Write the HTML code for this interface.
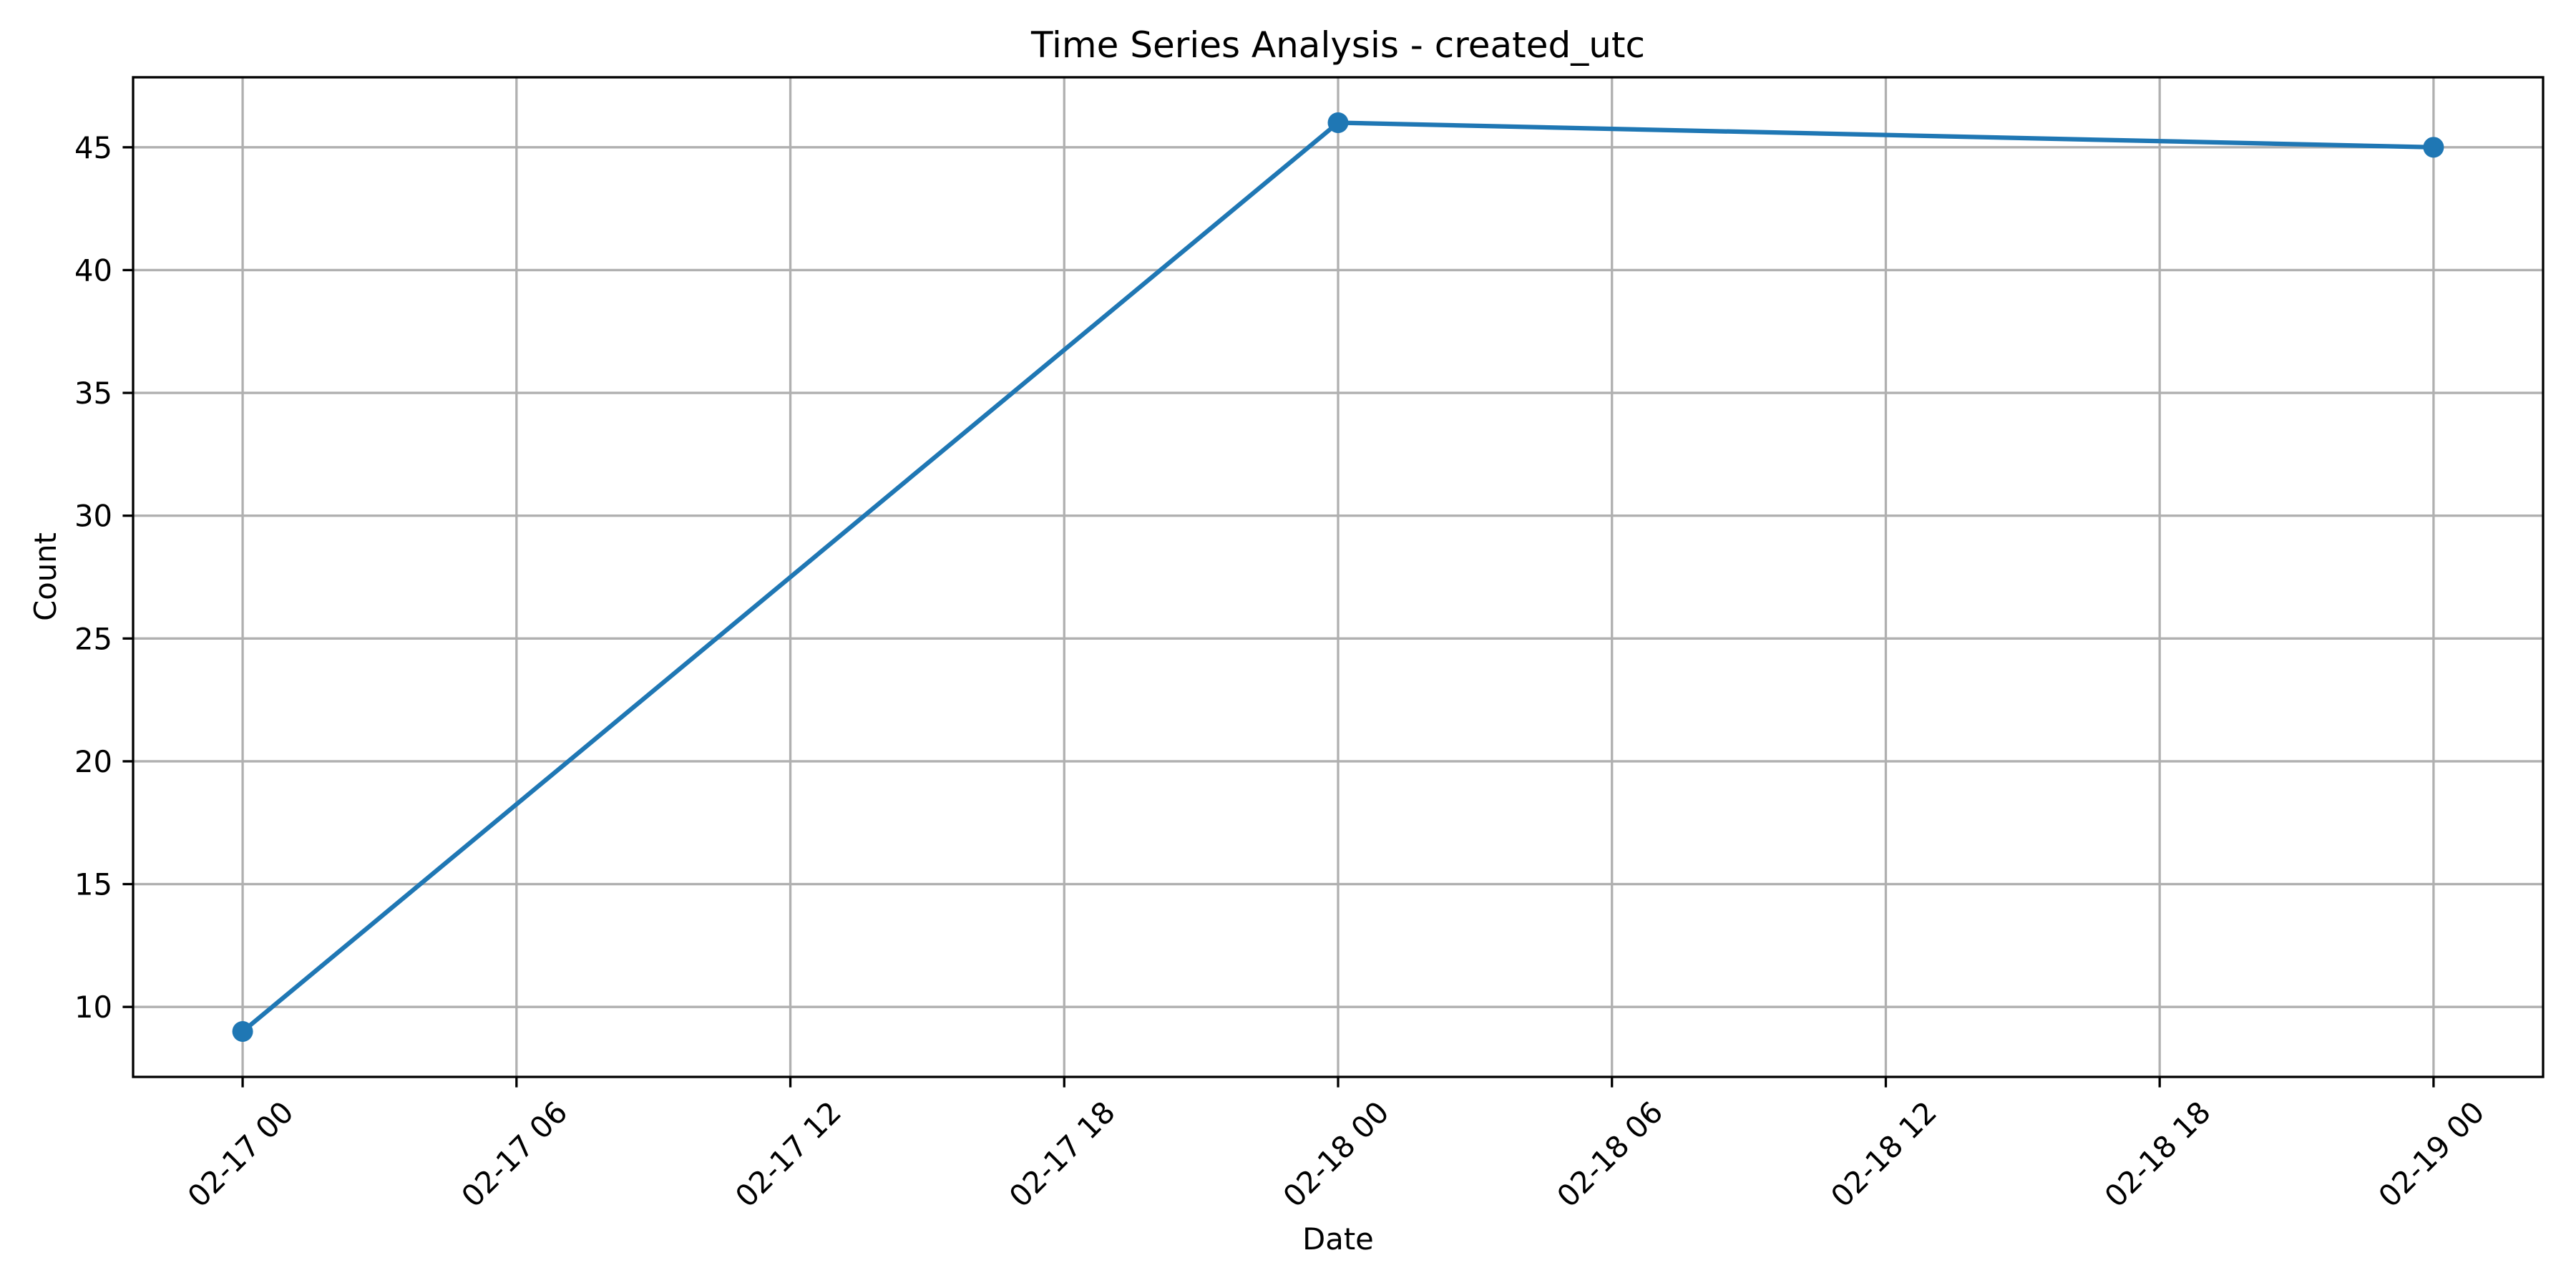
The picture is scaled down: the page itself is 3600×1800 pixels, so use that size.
<!DOCTYPE html>
<html><head><meta charset="utf-8"><style>
html,body{margin:0;padding:0;background:#fff;}
svg{display:block;font-family:"DejaVu Sans","Liberation Sans",sans-serif;}
</style></head><body>
<svg id="chart" width="3600" height="1800" viewBox="0 0 3600 1800" xmlns="http://www.w3.org/2000/svg">
<rect width="3600" height="1800" fill="#fff"/>
<text x="1870" y="80" font-size="50" text-anchor="middle" fill="#000">Time Series Analysis - created_utc</text>
<text x="1870" y="1746" font-size="41.7" text-anchor="middle" fill="#000">Date</text>
<text transform="translate(78,806) rotate(-90)" font-size="41.7" text-anchor="middle" fill="#000">Count</text>
<g id="grid"></g><g id="ticks"></g><g id="series"></g>
<rect x="186" y="108" width="3368" height="1397" fill="none" stroke="#000" stroke-width="3.3"/>
</svg>
<script>
const dates = [0, 1, 2]; // days since 02-17 00
const counts = [9, 46, 45];
const xTickValues = [0, 0.25, 0.5, 0.75, 1, 1.25, 1.5, 1.75, 2];
const xTickLabels = ["02-17 00","02-17 06","02-17 12","02-17 18","02-18 00","02-18 06","02-18 12","02-18 18","02-19 00"];
const yTickValues = [10, 15, 20, 25, 30, 35, 40, 45];

const L=186,R=3554,T=108,B=1505;
const xMin=-0.1,xMax=2.1,yMin=7.15,yMax=47.85;
const sx=v=>L+(v-xMin)/(xMax-xMin)*(R-L);
const sy=v=>B-(v-yMin)/(yMax-yMin)*(B-T);
const NS="http://www.w3.org/2000/svg";
function mk(tag,attrs,parent){const e=document.createElementNS(NS,tag);for(const k in attrs)e.setAttribute(k,attrs[k]);parent.appendChild(e);return e;}
const grid=document.getElementById('grid'),ticks=document.getElementById('ticks'),series=document.getElementById('series');
xTickValues.forEach((v,i)=>{
  const x=sx(v);
  const g=mk('line',{x1:x,x2:x,y1:T,y2:B,stroke:'#b0b0b0','stroke-width':3.3},grid);
  
  
  const t=mk('line',{x1:x,x2:x,y1:B,y2:B+14.6,stroke:'#000','stroke-width':3.3},ticks);
  
  
  const lb=mk('text',{x:0,y:0,'font-size':41.7,'text-anchor':'middle','dominant-baseline':'central',transform:`translate(${x-3},1613) rotate(-45)`},ticks);
  lb.textContent=xTickLabels[i];
  
  
});
yTickValues.forEach(v=>{
  const y=sy(v);
  const g=mk('line',{x1:L,x2:R,y1:y,y2:y,stroke:'#b0b0b0','stroke-width':3.3},grid);
  
  
  const t=mk('line',{x1:L-14.6,x2:L,y1:y,y2:y,stroke:'#000','stroke-width':3.3},ticks);
  
  
  const lb=mk('text',{x:L-29,y:y+15,'font-size':41.7,'text-anchor':'end'},ticks);
  lb.textContent=String(v);
  
  
});
const pts=dates.map((d,i)=>sx(d)+','+sy(counts[i])).join(' ');
const line=mk('polyline',{points:pts,fill:'none',stroke:'#1f77b4','stroke-width':6.25,'stroke-linejoin':'round','stroke-linecap':'square'},series);


dates.forEach((d,i)=>{
  const c=mk('circle',{cx:sx(d),cy:sy(counts[i]),r:14.5,fill:'#1f77b4'},series);
  
  
});
</script>
</body></html>
